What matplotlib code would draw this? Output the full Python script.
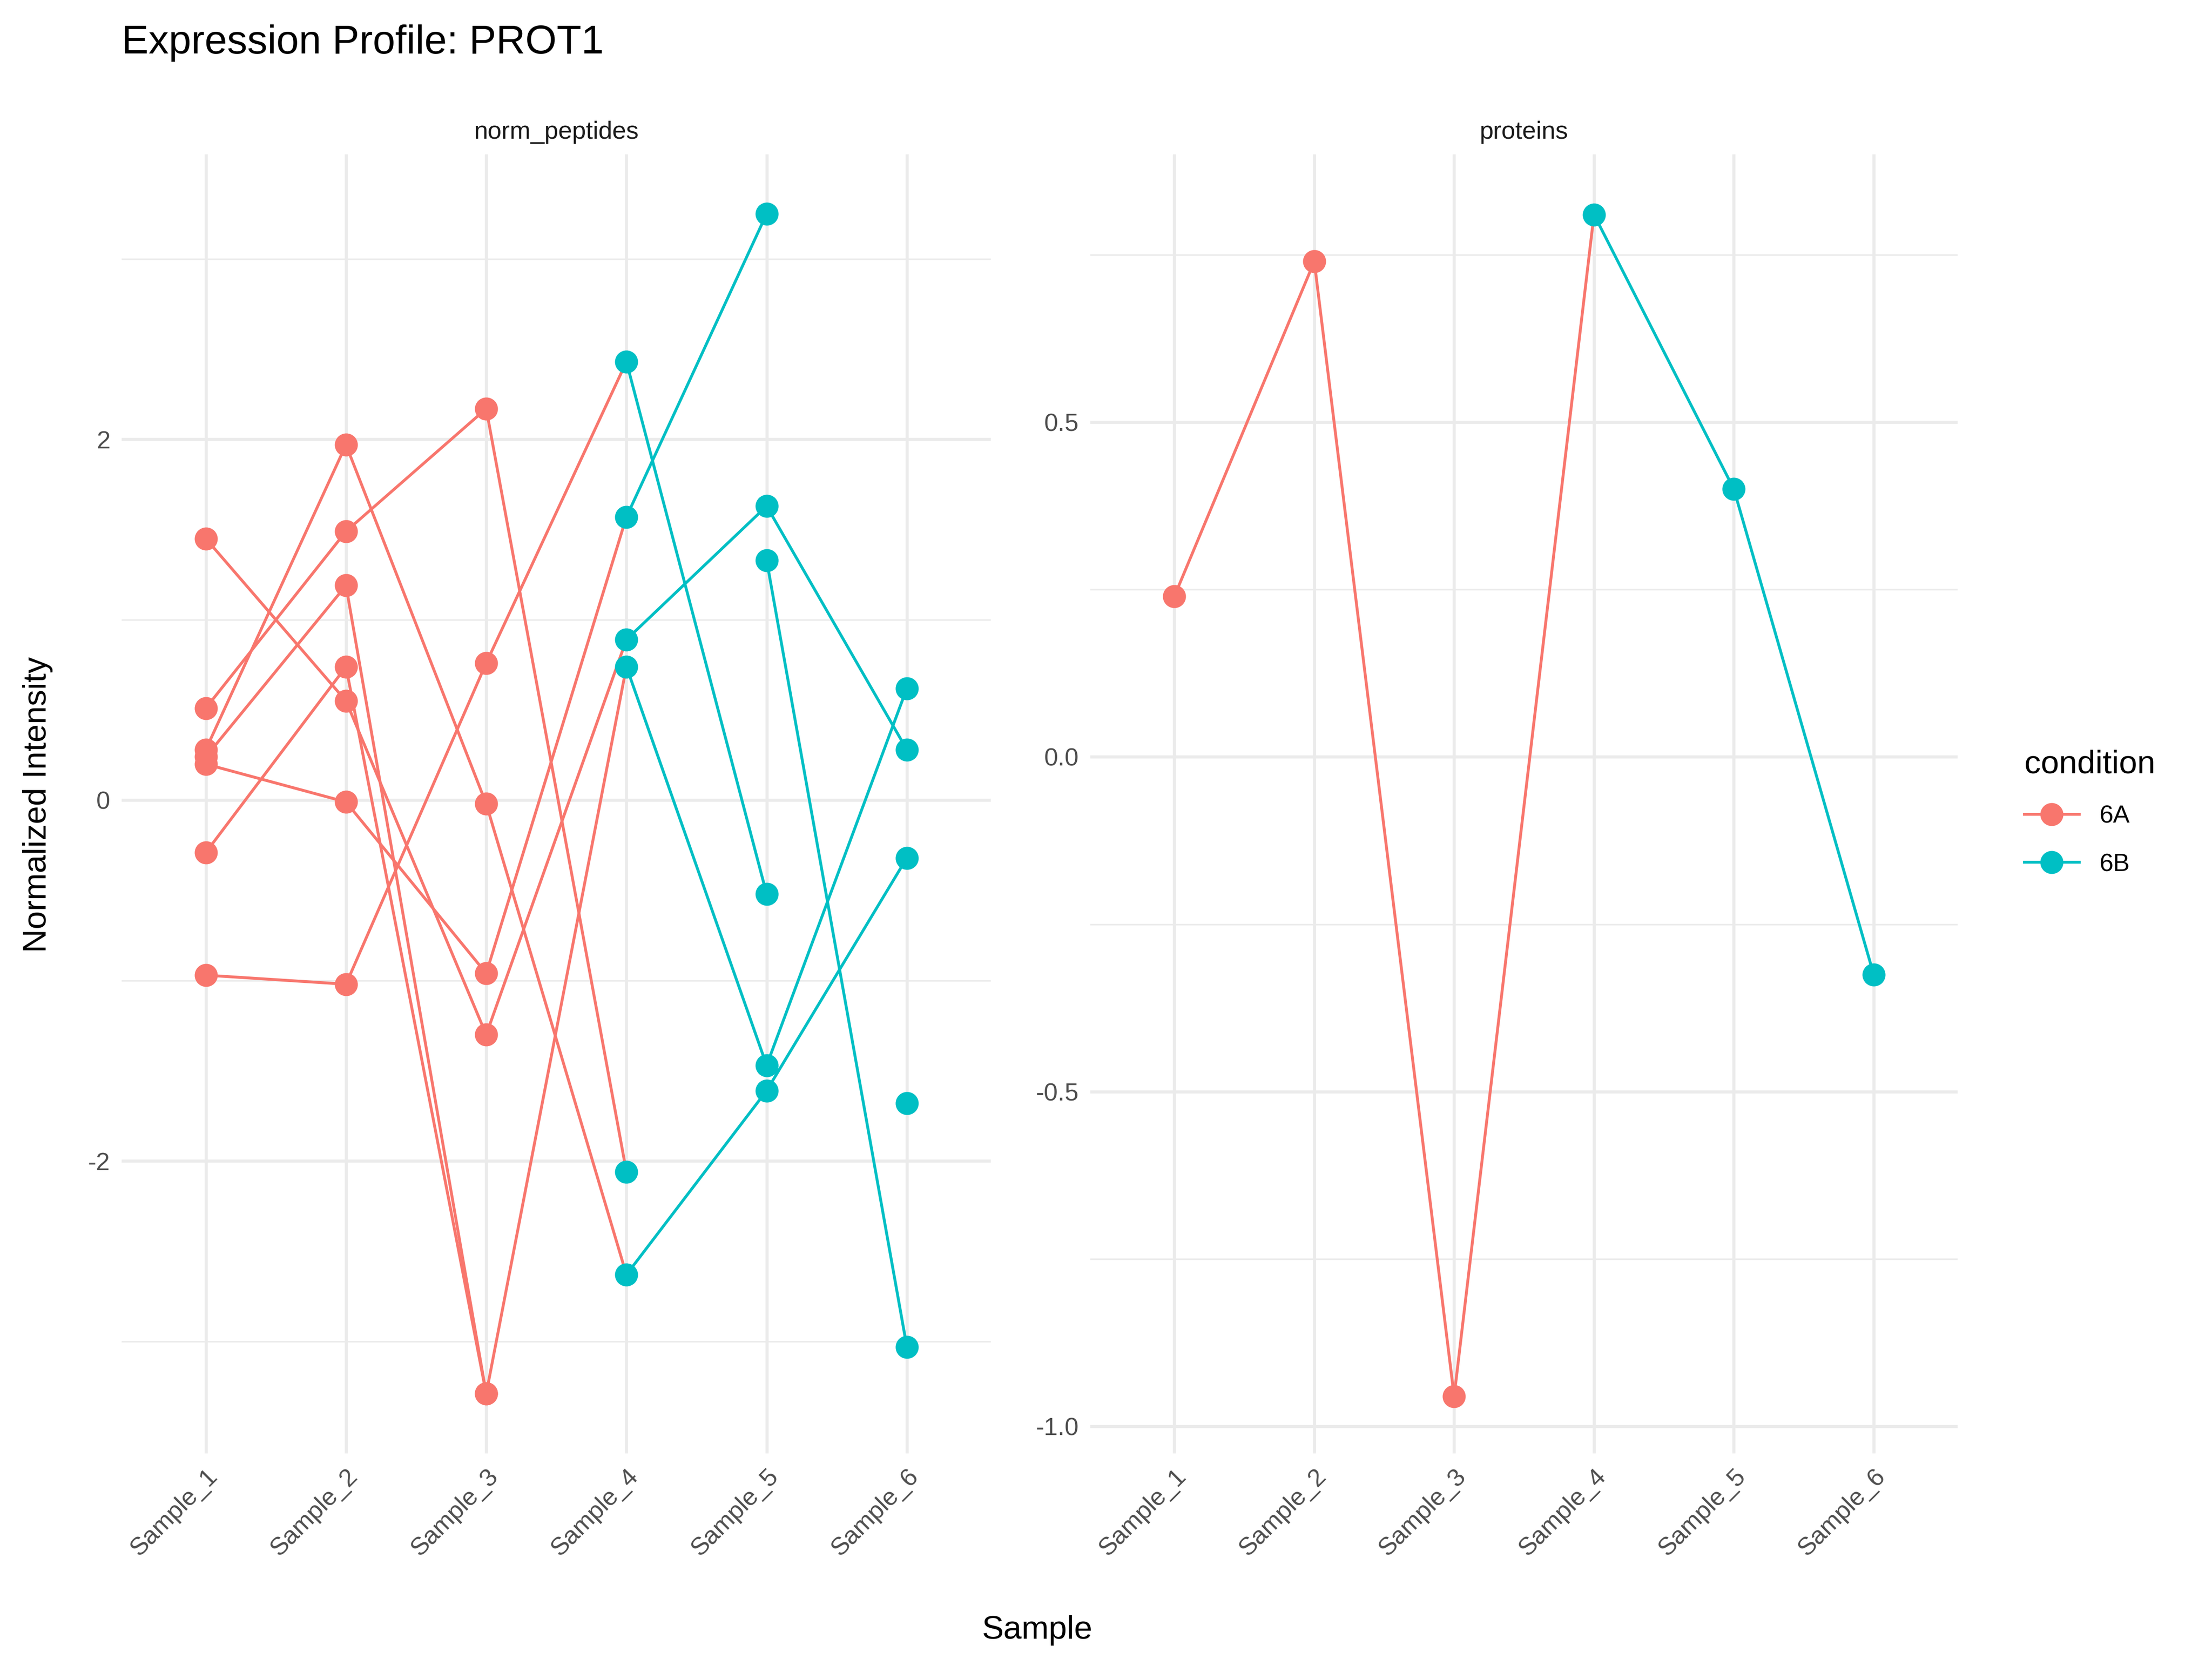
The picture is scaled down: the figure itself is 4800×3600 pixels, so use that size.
import numpy as np
import matplotlib.pyplot as plt
from matplotlib.lines import Line2D

plt.rcParams['font.family'] = ['Liberation Sans', 'DejaVu Sans']

samples = ['Sample_1', 'Sample_2', 'Sample_3', 'Sample_4', 'Sample_5', 'Sample_6']
conditions = ['6A', '6A', '6A', '6B', '6B', '6B']
nan = np.nan

# normalised peptide intensities, one row per peptide (nan = missing)
peptides = [
    [0.51, 1.49, 2.17, -2.06, nan, nan],
    [-0.97, -1.02, 0.76, 2.43, -0.52, nan],
    [0.28, 1.97, -0.02, -2.63, -1.61, -0.32],
    [0.20, -0.01, -0.96, 1.57, 3.25, nan],
    [1.45, 0.55, -1.30, 0.89, 1.63, 0.28],
    [0.24, 1.19, -3.29, 0.74, -1.47, 0.62],
    [-0.29, 0.74, -3.29, nan, 1.33, -3.03],
    [nan, nan, nan, nan, nan, -1.68],
]
proteins = [0.24, 0.74, -0.955, 0.81, 0.40, -0.325]

colors = {'6A': '#F8766D', '6B': '#00BFC4'}
grid_c = '#EBEBEB'


def draw_profile(ax, rows, ylim, major, minor):
    x = np.arange(len(samples))
    for row in rows:
        # each segment takes the colour of its starting sample, like geom_line
        for i in range(len(row) - 1):
            if np.isnan(row[i]) or np.isnan(row[i + 1]):
                continue
            ax.plot(x[i:i + 2], row[i:i + 2], color=colors[conditions[i]], lw=1.5, zorder=2)
        for i, v in enumerate(row):
            if not np.isnan(v):
                ax.plot(x[i], v, 'o', ms=12, color=colors[conditions[i]], mec='none', zorder=3)
    ax.set_xlim(-0.6, 5.6)
    ax.set_ylim(*ylim)
    ax.set_xticks(x)
    ax.set_xticklabels(samples, rotation=45, ha='right', rotation_mode='anchor')
    ax.set_yticks(major)
    ax.set_yticks(minor, minor=True)
    ax.grid(True, which='major', color=grid_c, lw=1.6, zorder=0)
    ax.grid(True, which='minor', axis='y', color=grid_c, lw=0.8, zorder=0)
    ax.set_axisbelow(True)
    for s in ax.spines.values():
        s.set_visible(False)
    ax.tick_params(which='both', length=0, labelsize=13, colors='#4D4D4D', pad=6)


fig = plt.figure(figsize=(16, 12), dpi=300)
ax1 = fig.add_axes([0.055, 0.124, 0.393, 0.783])
ax2 = fig.add_axes([0.493, 0.124, 0.392, 0.783])

draw_profile(ax1, peptides, (-3.62, 3.58), [-2, 0, 2], [-3, -1, 1, 3])
draw_profile(ax2, [proteins], (-1.04, 0.9), [-1.0, -0.5, 0.0, 0.5],
             [-0.75, -0.25, 0.25, 0.75])
ax1.set_yticklabels(['-2', '0', '2'])
ax2.set_yticklabels(['-1.0', '-0.5', '0.0', '0.5'])

ax1.set_title('norm_peptides', fontsize=13, color='#1A1A1A', pad=8)
ax2.set_title('proteins', fontsize=13, color='#1A1A1A', pad=8)

fig.text(0.055, 0.974, 'Expression Profile: PROT1', fontsize=21, va='center')
fig.text(0.469, 0.008, 'Sample', fontsize=17, ha='center', va='bottom')
fig.text(0.017, 0.515, 'Normalized Intensity', fontsize=17, rotation=90, ha='center', va='center')

handles = [Line2D([], [], color=colors[c], lw=1.5, marker='o', ms=12, mec='none') for c in ['6A', '6B']]
leg = fig.legend(handles, ['6A', '6B'], title='condition', loc='center left',
                 bbox_to_anchor=(0.905, 0.51), frameon=False, fontsize=13,
                 title_fontsize=17, handlelength=2.2, labelspacing=1.0)
leg._legend_box.align = 'left'

fig.savefig('out.png', dpi=300)
